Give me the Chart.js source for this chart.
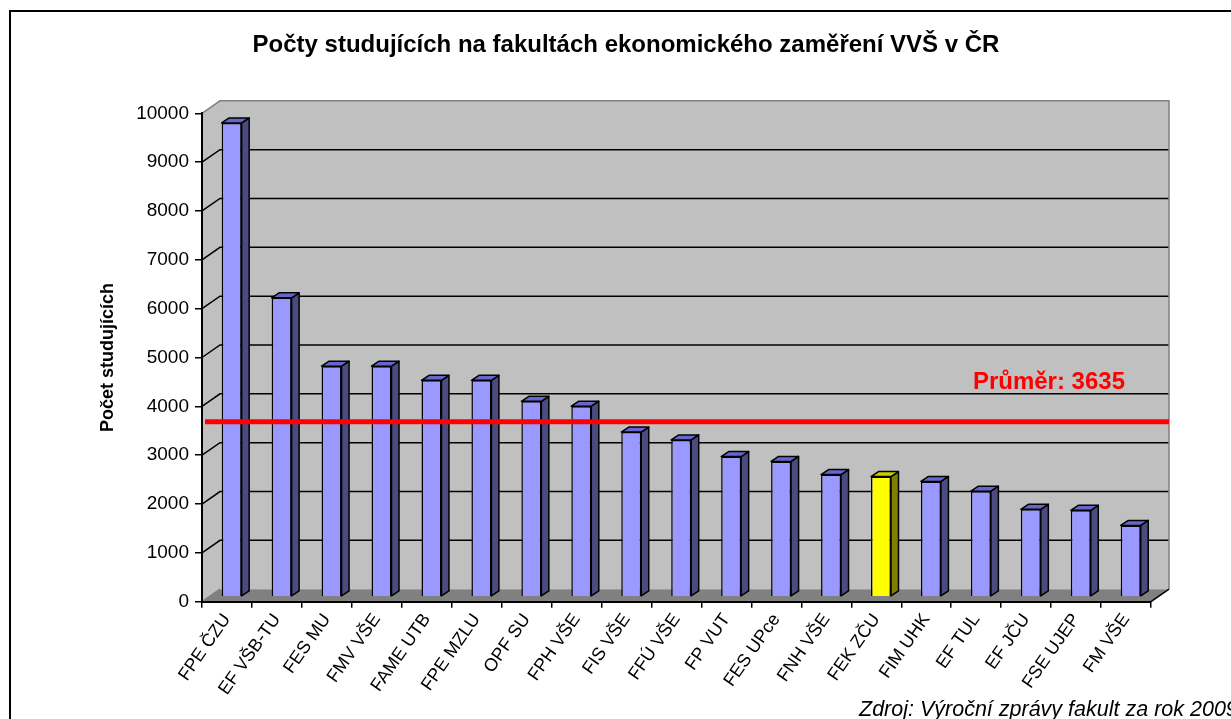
<!DOCTYPE html>
<html>
<head>
<meta charset="utf-8">
<script src="https://cdn.jsdelivr.net/npm/chart.js@4.4.1/dist/chart.umd.min.js"></script>
<style>
  html, body { margin: 0; padding: 0; background: #fff; }
  canvas { display: block; }
</style>
</head>
<body>
<canvas id="chart" width="1231" height="719"></canvas>
<script>
// Data
const faculties = ['FPE ČZU', 'EF VŠB-TU', 'FES MU', 'FMV VŠE', 'FAME UTB', 'FPE MZLU', 'OPF SU', 'FPH VŠE', 'FIS VŠE', 'FFÚ VŠE',
  'FP VUT', 'FES UPce', 'FNH VŠE', 'FEK ZČU', 'FIM UHK', 'EF TUL', 'EF JČU', 'FSE UJEP', 'FM VŠE'];
const students = [9700, 6120, 4720, 4720, 4430, 4430, 4000, 3900, 3370, 3210,
  2870, 2770, 2500, 2460, 2360, 2160, 1790, 1770, 1460];
const average = 3635;
const highlighted = 'FEK ZČU';
const yMax = 10000;
const yStep = 1000;

const titleText = 'Počty studujících na fakultách ekonomického zaměření VVŠ v ČR';
const sourceText = 'Zdroj: Výroční zprávy fakult za rok 2009';

// Colours of the faces (front, side, top)
const normalColors = { front: '#9999ff', side: '#4b4b80', top: '#6666cc' };
const highlightColors = { front: '#ffff00', side: '#808000', top: '#cccc00' };

const FONT = '"Liberation Sans", Arial, sans-serif';
Chart.defaults.font.family = FONT;
Chart.defaults.color = '#000';

// 3D look: walls, floor, bar depth faces, average line
const wallDepth = { x: 18, y: 12.5 };
const barDepth = { x: 7.5, y: 5 };
const barShift = { x: 4.7, y: -5 };

function colorsFor(i) {
  return faculties[i] === highlighted ? highlightColors : normalColors;
}

const chart3d = {
  id: 'chart3d',
  beforeDraw(chart) {
    const { ctx, chartArea: a, scales: { y } } = chart;
    const dx = wallDepth.x, dy = wallDepth.y;
    ctx.save();

    // outer frame
    ctx.strokeStyle = '#000';
    ctx.lineWidth = 2;
    ctx.strokeRect(10, 11, 1400, 900);

    // title
    ctx.fillStyle = '#000';
    ctx.font = 'bold 24px ' + FONT;
    ctx.textAlign = 'center';
    ctx.textBaseline = 'middle';
    ctx.fillText(titleText, 626, 45);

    // left wall
    ctx.fillStyle = '#c0c0c0';
    ctx.beginPath();
    ctx.moveTo(a.left, a.bottom);
    ctx.lineTo(a.left, a.top);
    ctx.lineTo(a.left + dx, a.top - dy);
    ctx.lineTo(a.left + dx, a.bottom - dy);
    ctx.closePath();
    ctx.fill();

    // back wall
    ctx.fillRect(a.left + dx, a.top - dy, a.right - a.left, a.bottom - a.top);

    // floor
    ctx.fillStyle = '#808080';
    ctx.beginPath();
    ctx.moveTo(a.left, a.bottom);
    ctx.lineTo(a.right, a.bottom);
    ctx.lineTo(a.right + dx, a.bottom - dy);
    ctx.lineTo(a.left + dx, a.bottom - dy);
    ctx.closePath();
    ctx.fill();

    // gridlines on the walls
    ctx.strokeStyle = '#000';
    ctx.lineWidth = 1.5;
    y.ticks.forEach(t => {
      if (t.value === 0 || t.value === yMax) return;
      const py = y.getPixelForValue(t.value);
      ctx.beginPath();
      ctx.moveTo(a.left, py);
      ctx.lineTo(a.left + dx, py - dy);
      ctx.lineTo(a.right + dx, py - dy);
      ctx.stroke();
    });

    // wall outline
    ctx.strokeStyle = '#808080';
    ctx.lineWidth = 1.5;
    ctx.beginPath();
    ctx.moveTo(a.left, a.top);
    ctx.lineTo(a.left + dx, a.top - dy);
    ctx.lineTo(a.right + dx, a.top - dy);
    ctx.lineTo(a.right + dx, a.bottom - dy);
    ctx.stroke();
    ctx.beginPath();
    ctx.moveTo(a.left, a.bottom);
    ctx.lineTo(a.left + dx, a.bottom - dy);
    ctx.stroke();
    ctx.strokeStyle = '#000';
    ctx.beginPath();
    ctx.moveTo(a.right, a.bottom);
    ctx.lineTo(a.right + dx, a.bottom - dy);
    ctx.stroke();

    ctx.restore();
  },
  beforeDatasetsDraw(chart) {
    chart.ctx.save();
    chart.ctx.translate(barShift.x, barShift.y);
  },
  afterDatasetsDraw(chart) {
    const { ctx, chartArea: a, scales: { y } } = chart;
    const meta = chart.getDatasetMeta(0);
    const dx = barDepth.x, dy = barDepth.y;
    ctx.lineWidth = 1.5;
    ctx.strokeStyle = '#000';
    ctx.lineJoin = 'round';
    meta.data.forEach((bar, i) => {
      const { x, y: top, base, width } = bar.getProps(['x', 'y', 'base', 'width'], true);
      const l = x - width / 2, r = x + width / 2;
      const c = colorsFor(i);
      // side
      ctx.fillStyle = c.side;
      ctx.beginPath();
      ctx.moveTo(r, top);
      ctx.lineTo(r + dx, top - dy);
      ctx.lineTo(r + dx, base - dy);
      ctx.lineTo(r, base);
      ctx.closePath();
      ctx.fill();
      ctx.stroke();
      // top
      ctx.fillStyle = c.top;
      ctx.beginPath();
      ctx.moveTo(l, top);
      ctx.lineTo(l + dx, top - dy);
      ctx.lineTo(r + dx, top - dy);
      ctx.lineTo(r, top);
      ctx.closePath();
      ctx.fill();
      ctx.stroke();
    });
    ctx.restore();

    // average line
    const py = y.getPixelForValue(average) - 2.5;
    ctx.save();
    ctx.strokeStyle = '#ff0000';
    ctx.lineWidth = 5;
    ctx.beginPath();
    ctx.moveTo(a.left + 3, py);
    ctx.lineTo(a.right + wallDepth.x, py);
    ctx.stroke();
    ctx.fillStyle = '#ff0000';
    ctx.font = 'bold 24px ' + FONT;
    ctx.textAlign = 'right';
    ctx.textBaseline = 'alphabetic';
    ctx.fillText('Průměr: ' + average, a.right - 26, py - 33);
    ctx.restore();
  },
  afterDraw(chart) {
    const { ctx } = chart;
    ctx.save();
    ctx.fillStyle = '#000';
    ctx.font = 'italic 21.5px ' + FONT;
    ctx.textAlign = 'left';
    ctx.textBaseline = 'alphabetic';
    ctx.fillText(sourceText, 859, 716);
    ctx.restore();
  }
};

new Chart(document.getElementById('chart'), {
  type: 'bar',
  data: {
    labels: faculties,
    datasets: [{
      data: students,
      backgroundColor: faculties.map((f, i) => colorsFor(i).front),
      borderColor: '#000',
      borderWidth: 1.5,
      categoryPercentage: 1,
      barPercentage: 0.4
    }]
  },
  options: {
    responsive: false,
    animation: false,
    layout: { padding: { left: 0, right: 80, top: 113.3, bottom: 0 } },
    plugins: {
      legend: { display: false },
      tooltip: { enabled: false },
      title: { display: false }
    },
    scales: {
      x: {
        afterFit: (scale) => { scale.height = 117.3; },
        grid: { drawOnChartArea: false, drawTicks: true, tickLength: 6, color: '#000', lineWidth: 1.5, offset: true },
        border: { display: true, color: '#000', width: 2 },
        ticks: { autoSkip: false, minRotation: 55, maxRotation: 55, font: { size: 18 }, color: '#000', padding: 2 }
      },
      y: {
        min: 0,
        max: yMax,
        afterFit: (scale) => { scale.width = 202; },
        grid: { drawOnChartArea: false, drawTicks: true, tickLength: 7, color: '#000', lineWidth: 1.5 },
        border: { display: true, color: '#000', width: 2 },
        ticks: { stepSize: yStep, font: { size: 19 }, color: '#000', padding: 6, callback: (v) => String(v) },
        title: {
          display: true,
          text: 'Počet studujících',
          color: '#000',
          font: { size: 18, weight: 'bold' },
          padding: { top: 97, bottom: 0 }
        }
      }
    }
  },
  plugins: [chart3d]
});
</script>
</body>
</html>
